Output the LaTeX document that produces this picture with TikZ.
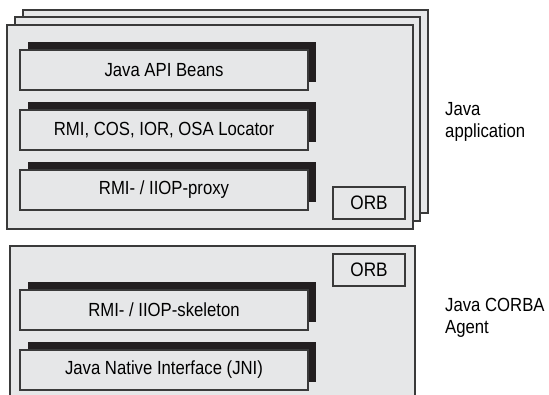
\documentclass[tikz,border=0pt]{standalone}
\usepackage{fontspec}
\setmainfont{Liberation Sans}[FakeStretch=0.88]
\usetikzlibrary{shadows}
\definecolor{bg}{HTML}{E6E7E8}
\definecolor{ln}{HTML}{3A3A3A}
\definecolor{sh}{HTML}{231F20}
\begin{document}
\begin{tikzpicture}[x=1pt,y=-1pt,
  frame/.style={draw=ln, fill=bg, line width=1.3pt},
  layer/.style={draw=ln, fill=bg, line width=1.3pt, minimum width=288pt, minimum height=40pt, inner sep=0pt,
    font=\fontsize{19}{22}\selectfont,
    general shadow={fill=sh, shadow xshift=8pt, shadow yshift=8pt}},
  orb/.style={draw=ln, fill=bg, line width=1.3pt, minimum width=72pt, minimum height=32pt, inner sep=0pt,
    font=\fontsize{19.5}{22}\selectfont},
  lbl/.style={anchor=base west, align=left, inner sep=0pt, font=\fontsize{19}{22}\selectfont}]
\useasboundingbox (0,0) rectangle (549,394);
% stacked application frames
\draw[frame] (23,10) rectangle (428,213);
\draw[frame] (15,17) rectangle (420,221);
\draw[frame] (7,25) rectangle (413,229);
% agent frame (runs off the bottom)
\begin{scope}
\clip (0,0) rectangle (549,394);
\draw[frame] (10,246) rectangle (415,410);
\end{scope}
% layers
\node[layer] (beans) at (164,70) {Java API Beans};
\node[layer] (rmi) at (164,130) {RMI, COS, IOR, OSA Locator};
\node[layer] (proxy) at (164,190) {RMI- / IIOP-proxy};
\node[orb] (orb1) at (369,203) {ORB};
\node[orb] (orb2) at (369,270) {ORB};
\node[layer] (skel) at (164,310) {RMI- / IIOP-skeleton};
\node[layer] (jni) at (164,370) {Java Native Interface (JNI)};
% side labels
\node[lbl] (app) at (445,137) {Java\\application};
\node[lbl] (agent) at (445,333) {Java CORBA\\Agent};
\end{tikzpicture}
\end{document}
